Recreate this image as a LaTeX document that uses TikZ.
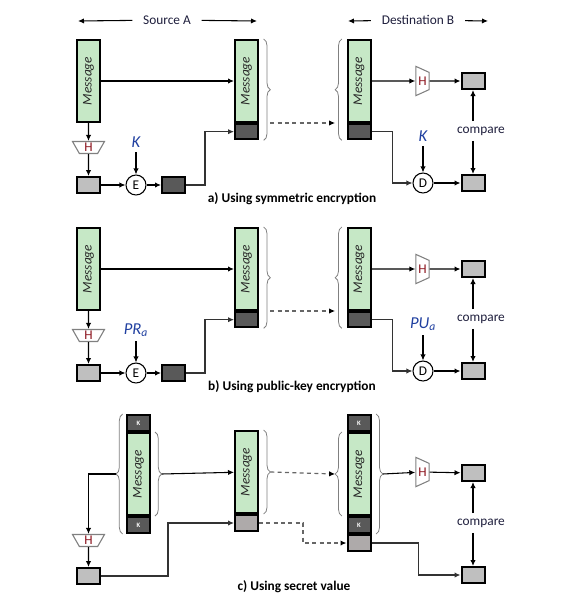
\documentclass[tikz,border=0pt]{standalone}
\usepackage{fontspec}
\setmainfont{Carlito}
\usepackage{graphicx}
\usetikzlibrary{arrows.meta,shapes.geometric,decorations.pathreplacing}
\definecolor{msggreen}{RGB}{198,232,198}
\definecolor{tagdark}{RGB}{89,89,89}
\definecolor{hashgray}{RGB}{191,191,191}
\definecolor{secgray}{RGB}{174,170,170}
\definecolor{keyblue}{RGB}{32,64,160}
\definecolor{hred}{RGB}{140,20,30}
\definecolor{txtdark}{RGB}{30,30,60}
\newcommand{\msgtxt}{\rotatebox{90}{\color{black!85}\textit{Message}}}

\begin{document}
\begin{tikzpicture}[x=0.75pt, y=-0.75pt,
    every node/.style={font=\fontsize{10}{12}\selectfont},
    msg/.style={rectangle, draw=black, fill=msggreen, line width=1.5pt,
        minimum width=17.25pt, minimum height=61.5pt, inner sep=0pt},
    tag/.style={rectangle, draw=black, fill=tagdark, line width=1.5pt,
        minimum width=17.25pt, minimum height=11.5pt, inner sep=0pt},
    ktag/.style={tag, minimum height=12pt, text=white,
        font=\fontsize{5}{6}\selectfont\bfseries},
    hbox/.style={rectangle, draw=black, fill=hashgray, line width=1.5pt,
        minimum width=17.25pt, minimum height=12pt, inner sep=0pt},
    sbox/.style={hbox, fill=secgray},
    dbox/.style={hbox, fill=tagdark},
    hash/.style={trapezium, draw=gray, fill=white, line width=0.8pt,
        trapezium left angle=70, trapezium right angle=70,
        trapezium stretches=true, minimum width=22pt, minimum height=10pt,
        inner sep=0pt, text=hred},
    hashdown/.style={hash, shape border rotate=180, minimum width=24pt,
        minimum height=9pt},
    hashright/.style={hash, shape border rotate=270},
    enc/.style={circle, draw=black, fill=white, line width=0.8pt,
        minimum size=15pt, inner sep=0pt},
    keylbl/.style={text=keyblue, font=\fontsize{12.5}{14}\selectfont\itshape},
    cmp/.style={text=txtdark, inner xsep=1pt, inner ysep=4pt},
    hdr/.style={text=txtdark, inner xsep=8pt},
    caption/.style={font=\fontsize{10}{12}\selectfont\bfseries},
    arr/.style={draw=black, line width=0.8pt, -{Latex[length=4.5pt,width=4pt]}},
    garr/.style={arr, draw=black!80},
    dasharr/.style={draw=black!60, line width=0.9pt, dash pattern=on 3pt off 2.5pt,
        -{Latex[length=4.5pt,width=4pt,color=black]}},
    brc/.style={draw=gray, line width=0.6pt, decorate,
        decoration={brace, amplitude=5pt}}
]
\useasboundingbox (0,0) rectangle (580,607);

% headers
\node[hdr] (srcA) at (167,20) {Source A};
\coordinate (srcL) at (78,21);
\coordinate (srcR) at (257,21);
\draw[arr] (srcA) -- (srcL);
\draw[arr] (srcA) -- (srcR);
\node[hdr] (dstB) at (418,20) {Destination B};
\coordinate (dstL) at (348,21);
\coordinate (dstR) at (488,21);
\draw[arr] (dstB) -- (dstL);
\draw[arr] (dstB) -- (dstR);

% panels a) and b)
\foreach \p/\dy/\ka/\kb/\cap in {
    a/0/{K}/{K}/{a) Using symmetric encryption},
    b/188/{PR\textsubscript{a}}/{PU\textsubscript{a}}/{b) Using public-key encryption}}{
  \node[msg] (\p m1) at (88.5,81+\dy) {\msgtxt};
  \node[hashdown] (\p h1) at (88.5,147.5+\dy) {H};
  \node[hbox] (\p s1) at (88.5,185+\dy) {};
  \node[enc] (\p e1) at (136,185+\dy) {E};
  \node[keylbl] (\p k1) at (136,142+\dy) {\ka};
  \node[dbox] (\p c1) at (173.5,185+\dy) {};
  \node[msg] (\p m2) at (246.5,81+\dy) {\msgtxt};
  \node[tag, anchor=north] (\p t2) at (\p m2.south) {};
  \node[msg] (\p m3) at (359,81+\dy) {\msgtxt};
  \node[tag, anchor=north] (\p t3) at (\p m3.south) {};
  \node[hashright] (\p h3) at (422.5,81+\dy) {H};
  \node[hbox] (\p r1) at (473,81+\dy) {};
  \node[enc] (\p d3) at (423,183+\dy) {D};
  \node[keylbl] (\p k3) at (423,136+\dy) {\kb};
  \node[hbox] (\p r2) at (473,183+\dy) {};
  \node[cmp] (\p cp) at (481,131+\dy) {compare};
  \node[caption] (\p cap) at (292,199+\dy) {\cap};
  \draw[brc] ([xshift=3.5pt]\p m2.north east) -- ([xshift=3.5pt]\p t2.south east);
  \coordinate (\p b2) at ([xshift=8.5pt]\p m2.east |- \p m2.south);
  \draw[brc] ([xshift=-3.5pt]\p t3.south west) -- ([xshift=-3.5pt]\p m3.north west);
  \coordinate (\p b3) at ([xshift=-8.5pt]\p m3.west |- \p m3.south);
  \draw[arr] (\p m1) -- (\p m2);
  \draw[arr] (\p m1) -- (\p h1);
  \draw[arr] (\p h1) -- (\p s1);
  \draw[arr] (\p s1) -- (\p e1);
  \draw[arr] (\p k1) -- (\p e1);
  \draw[arr] (\p e1) -- (\p c1);
  \draw[garr] (\p c1.east) -- ++(19,0) |- (\p t2.west);
  \draw[dasharr] (\p b2) -- (\p b3);
  \draw[arr] (\p m3) -- (\p h3);
  \draw[arr] (\p h3) -- (\p r1);
  \draw[garr] (\p t3.east) -- ++(21,0) |- (\p d3.west);
  \draw[arr] (\p k3) -- (\p d3);
  \draw[arr] (\p d3) -- (\p r2);
  \draw[arr] (\p cp.north -| \p r1) -- (\p r1);
  \draw[arr] (\p cp.south -| \p r2) -- (\p r2);
}

% panel c)
\node[ktag] (ck1) at (138.5,423) {K};
\node[msg, anchor=north] (cm4) at (ck1.south) {\msgtxt};
\node[ktag, anchor=north] (ck2) at (cm4.south) {K};
\draw[brc] ([xshift=3pt]cm4.north east) -- ([xshift=3pt]cm4.south east);
\coordinate (cb1) at ([xshift=8pt]cm4.east);
\draw[brc] ([xshift=-2.5pt]ck2.south west) -- ([xshift=-2.5pt]ck1.north west);
\coordinate (cb0) at ([xshift=-7.5pt]cm4.west);
\node[hashdown] (ch4) at (88.5,540.5) {H};
\node[hbox] (cs4) at (88.5,576) {};
\node[msg] (cm5) at (246.5,472) {\msgtxt};
\node[sbox, anchor=north] (ct5) at (cm5.south) {};
\draw[brc] ([xshift=3.5pt]cm5.north east) -- ([xshift=3.5pt]cm5.south east);
\coordinate (cb5) at ([xshift=8.5pt]cm5.east);
\node[ktag] (ck6) at (359,423) {K};
\node[msg, anchor=north] (cm6) at (ck6.south) {\msgtxt};
\node[ktag, anchor=north] (ck7) at (cm6.south) {K};
\node[sbox, anchor=north] (ct6) at (ck7.south) {};
\draw[brc] ([xshift=-3.5pt]cm6.south west) -- ([xshift=-3.5pt]cm6.north west);
\coordinate (cb6) at ([xshift=-8.5pt]cm6.west);
\draw[brc] ([xshift=3.5pt]ck6.north east) -- ([xshift=3.5pt]ck7.south east);
\coordinate (cb7) at ([xshift=8.5pt]cm6.east);
\node[hashright] (ch6) at (422.5,472) {H};
\node[hbox] (cr3) at (473,473) {};
\node[cmp] (ccp) at (481,523) {compare};
\node[hbox] (cr4) at (473,575) {};
\node[caption] (ccap) at (294,587) {c) Using secret value};
\draw[arr] (cb0) -| (ch4);
\draw[arr] (ch4) -- (cs4);
\draw[garr] (cs4.east) -- ++(67,0) |- (ct5.west);
\draw[arr] (cb1) -- (cm5);
\draw[dasharr] (cb5) -- (cb6);
\draw[dasharr] (ct5.east) -- ++(44,0) |- (ct6.west);
\draw[arr] (cb7) -- (ch6);
\draw[arr] (ch6) -- (cr3);
\draw[arr] (ccp.north -| cr3) -- (cr3);
\draw[arr] (ccp.south -| cr4) -- (cr4);
\draw[garr] (ct6.east) -- ++(47,0) |- (cr4.west);
\end{tikzpicture}
\end{document}
